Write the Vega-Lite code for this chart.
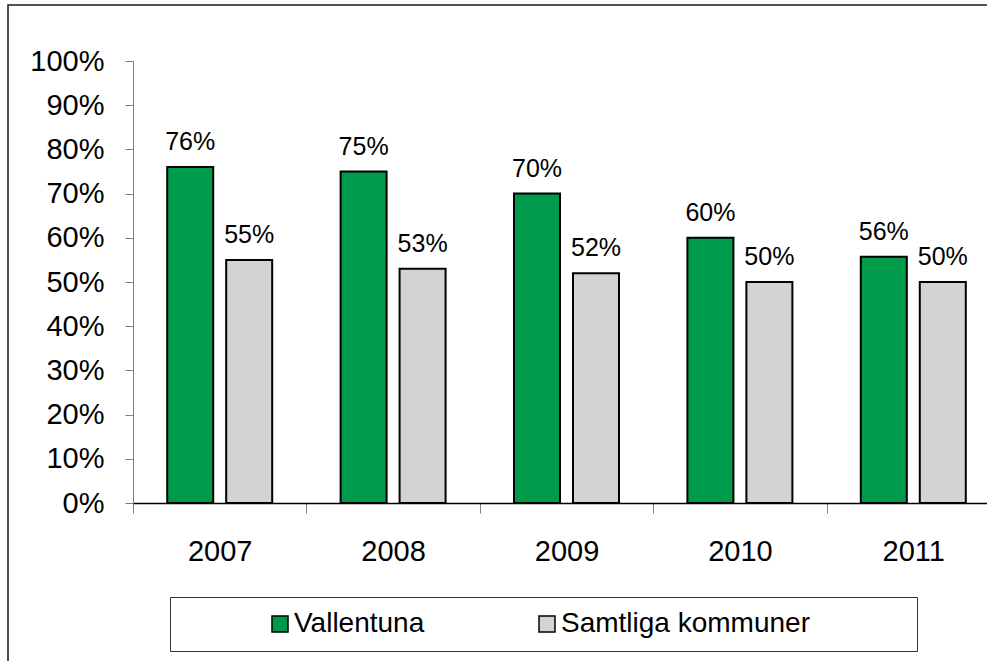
{
  "$schema": "https://vega.github.io/schema/vega-lite/v6.json",
  "width": 985,
  "height": 662,
  "autosize": {"type": "none"},
  "padding": {"left": 8, "top": 5, "right": -6, "bottom": -6},
  "background": "white",
  "config": {
    "font": "Liberation Sans",
    "view": {"stroke": "#1a1a1a", "strokeWidth": 1.5}
  },
  "data": {
    "values": [
      {"year": "2007", "serie": "Vallentuna", "value": 0.76},
      {"year": "2007", "serie": "Samtliga kommuner", "value": 0.55},
      {"year": "2008", "serie": "Vallentuna", "value": 0.75},
      {"year": "2008", "serie": "Samtliga kommuner", "value": 0.53},
      {"year": "2009", "serie": "Vallentuna", "value": 0.70},
      {"year": "2009", "serie": "Samtliga kommuner", "value": 0.52},
      {"year": "2010", "serie": "Vallentuna", "value": 0.60},
      {"year": "2010", "serie": "Samtliga kommuner", "value": 0.50},
      {"year": "2011", "serie": "Vallentuna", "value": 0.557},
      {"year": "2011", "serie": "Samtliga kommuner", "value": 0.50}
    ]
  },
  "encoding": {
    "x": {
      "field": "year",
      "type": "nominal",
      "scale": {"range": [125, 992], "paddingInner": 0, "paddingOuter": 0},
      "axis": {
        "title": null,
        "offset": -164,
        "labelAngle": 0,
        "tickBand": "extent",
        "tickSize": 10,
        "tickColor": "#808080",
        "domainColor": "#000",
        "domainWidth": 1.5,
        "labelFontSize": 29,
        "labelColor": "#000",
        "labelBaseline": "alphabetic",
        "labelPadding": 47
      }
    },
    "xOffset": {
      "field": "serie",
      "type": "nominal",
      "sort": ["Vallentuna", "Samtliga kommuner"],
      "scale": {"paddingInner": 0.22, "paddingOuter": 0.58}
    },
    "y": {
      "field": "value",
      "type": "quantitative",
      "scale": {"domain": [0, 1], "range": [498, 56]},
      "axis": {
        "title": null,
        "offset": -125,
        "values": [0, 0.1, 0.2, 0.3, 0.4, 0.5, 0.6, 0.7, 0.8, 0.9, 1],
        "format": ".0%",
        "grid": false,
        "tickSize": 8,
        "tickColor": "#808080",
        "domainColor": "#808080",
        "labelFontSize": 29,
        "labelColor": "#000",
        "labelPadding": 21
      }
    }
  },
  "layer": [
    {
      "mark": {"type": "bar", "stroke": "#000", "strokeWidth": 2},
      "encoding": {
        "color": {
          "field": "serie",
          "type": "nominal",
          "scale": {"domain": ["Vallentuna", "Samtliga kommuner"], "range": ["#009B4A", "#D3D3D5"]},
          "legend": {
            "orient": "none",
            "legendX": 162,
            "legendY": 592,
            "direction": "horizontal",
            "title": "\u00a0",
            "titleOrient": "left",
            "titlePadding": 83,
            "titleFontSize": 1,
            "padding": 13,
            "strokeColor": "#333",
            "fillColor": "#fff",
            "symbolType": "square",
            "symbolSize": 256,
            "symbolStrokeColor": "#000",
            "symbolStrokeWidth": 1.5,
            "labelFontSize": 28,
            "labelColor": "#000",
            "labelOffset": 0,
            "labelLimit": 600,
            "columnPadding": 108,
            "labelExpr": "datum.label == 'Samtliga kommuner' ? datum.label + '\u00a0\u00a0\u00a0\u00a0\u00a0\u00a0\u00a0\u00a0\u00a0\u00a0\u00a0\u00a0\u200b' : datum.label"
          }
        }
      }
    },
    {
      "mark": {"type": "text", "fontSize": 25, "baseline": "alphabetic", "dy": -17, "color": "#000"},
      "encoding": {
        "text": {"field": "value", "type": "quantitative", "format": ".0%"}
      }
    }
  ]
}
